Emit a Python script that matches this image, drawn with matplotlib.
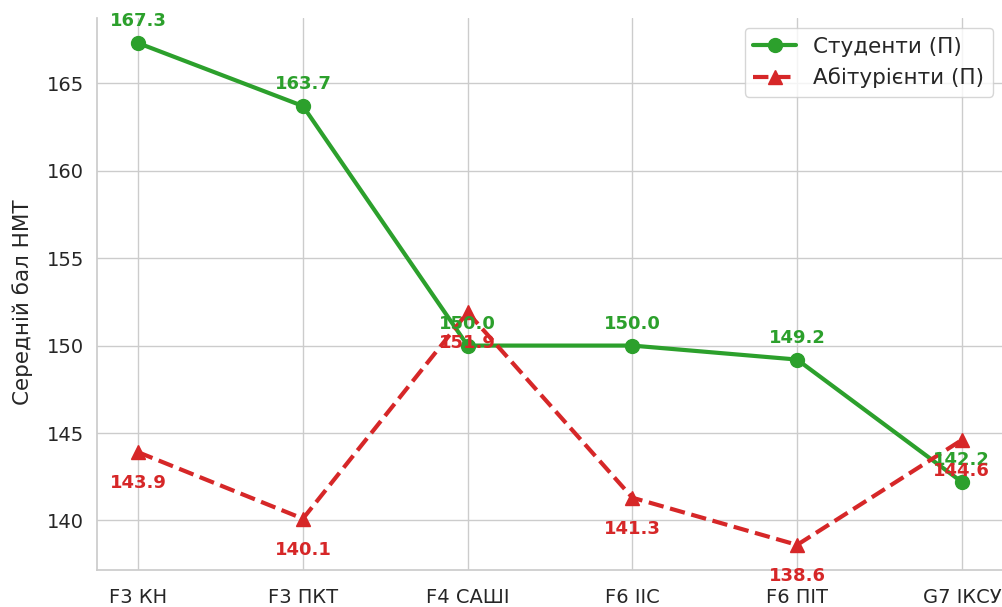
import numpy as np
import matplotlib
matplotlib.use("Agg")
import matplotlib.pyplot as plt
import seaborn as sns

# Дані
faculties = ["F3 КН", "F3 ПКТ", "F4 САШІ", "F6 ІІС", "F6 ПІТ", "G7 ІКСУ"]
students = [167.3, 163.7, 150.0, 150.0, 149.2, 142.2]
applicants = [143.9, 140.1, 151.9, 141.3, 138.6, 144.6]

sns.set_theme(style="whitegrid")
plt.rcParams['font.family'] = ['DejaVu Sans']

green = "#2ca02c"
red = "#d62728"

fig, ax = plt.subplots(figsize=(10.03, 6.07), dpi=100)
x = np.arange(len(faculties))

ax.plot(x, students, color=green, marker="o", markersize=10, linewidth=3,
        label="Студенти (П)")
ax.plot(x, applicants, color=red, marker="^", markersize=10, linewidth=3,
        linestyle="--", label="Абітурієнти (П)")

for xi, v in zip(x, students):
    ax.annotate(f"{v:.1f}", (xi, v), textcoords="offset points", xytext=(0, 12),
                ha="center", color=green, fontweight="bold", fontsize=13)
for xi, v in zip(x, applicants):
    ax.annotate(f"{v:.1f}", (xi, v), textcoords="offset points", xytext=(0, -26),
                ha="center", color=red, fontweight="bold", fontsize=13)

ax.set_xticks(x)
ax.set_xticklabels(faculties, fontsize=14)
ax.tick_params(axis="x", pad=7)
ax.tick_params(axis="y", labelsize=14)
ax.set_ylabel("Середній бал НМТ", fontsize=15.5, labelpad=10)
ax.yaxis.label.set_y(0.485)
ax.legend(loc="upper right", fontsize=15.5, bbox_to_anchor=(0.989, 0.982),
          borderaxespad=0)
sns.despine()

fig.subplots_adjust(left=97/1003, right=1.0, bottom=1 - 570/607, top=1 - 18/607)
plt.savefig("out.png", dpi=100)
